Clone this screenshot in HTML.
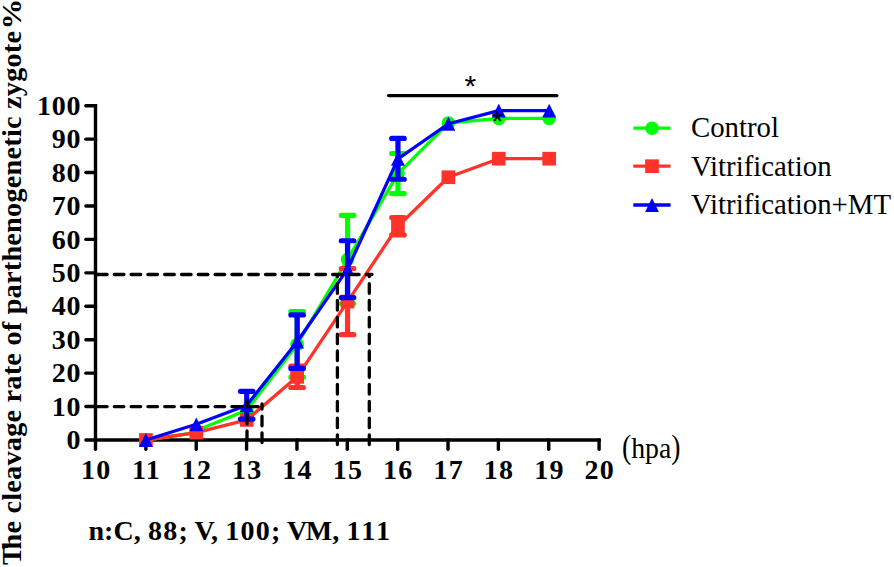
<!DOCTYPE html><html><head><meta charset="utf-8"><title>chart</title><style>
html,body{margin:0;padding:0;background:#fff}
#c{position:relative;width:894px;height:567px;overflow:hidden;background:#fff;font-family:"Liberation Serif",serif;color:#000}
.t{position:absolute;white-space:nowrap;line-height:1}
.yl{font-weight:bold;font-size:28px;text-align:right;width:70px;left:11.4px;letter-spacing:0.8px}
.xl{font-weight:bold;font-size:28px;text-align:center;width:60px;letter-spacing:1.3px}
.lg{font-size:28.8px;left:691px}
.d{letter-spacing:1.1px}
.p{display:inline-block;transform:translateY(-1.4px) scaleY(1.165);transform-origin:50% 58%}
</style></head><body><div id="c">
<svg width="894" height="567" viewBox="0 0 894 567" style="position:absolute;left:0;top:0">
<g stroke="#000" stroke-width="3.4" fill="none">
<path d="M95.5 104.00V441.70"/>
<path d="M93.8 440.0H600.80"/>
<path d="M85.9 440.00H95.5" stroke-linecap="round"/>
<path d="M85.9 406.57H95.5" stroke-linecap="round"/>
<path d="M85.9 373.14H95.5" stroke-linecap="round"/>
<path d="M85.9 339.71H95.5" stroke-linecap="round"/>
<path d="M85.9 306.28H95.5" stroke-linecap="round"/>
<path d="M85.9 272.85H95.5" stroke-linecap="round"/>
<path d="M85.9 239.42H95.5" stroke-linecap="round"/>
<path d="M85.9 205.99H95.5" stroke-linecap="round"/>
<path d="M85.9 172.56H95.5" stroke-linecap="round"/>
<path d="M85.9 139.13H95.5" stroke-linecap="round"/>
<path d="M85.9 105.70H95.5" stroke-linecap="round"/>
<path d="M95.50 440.0V449.3" stroke-linecap="round"/>
<path d="M145.86 440.0V449.3" stroke-linecap="round"/>
<path d="M196.22 440.0V449.3" stroke-linecap="round"/>
<path d="M246.58 440.0V449.3" stroke-linecap="round"/>
<path d="M296.94 440.0V449.3" stroke-linecap="round"/>
<path d="M347.30 440.0V449.3" stroke-linecap="round"/>
<path d="M397.66 440.0V449.3" stroke-linecap="round"/>
<path d="M448.02 440.0V449.3" stroke-linecap="round"/>
<path d="M498.38 440.0V449.3" stroke-linecap="round"/>
<path d="M548.74 440.0V449.3" stroke-linecap="round"/>
<path d="M599.10 440.0V449.3" stroke-linecap="round"/>
</g>
<path d="M297.14 311.63V377.15M290.89 311.63H303.39M290.89 377.15H303.39" stroke="#00ff00" stroke-width="5.2" stroke-linecap="round" fill="none"/>
<path d="M347.55 215.35V303.61M341.30 215.35H353.80M341.30 303.61H353.80" stroke="#00ff00" stroke-width="5.2" stroke-linecap="round" fill="none"/>
<path d="M397.96 153.50V193.62M391.71 153.50H404.21M391.71 193.62H404.21" stroke="#00ff00" stroke-width="5.2" stroke-linecap="round" fill="none"/>
<path d="M145.91 440.00L196.32 432.65" stroke="#00ff00" stroke-width="3.3" fill="none"/>
<polyline points="196.32,430.47 246.73,410.25 297.14,344.39 347.55,259.48 397.96,173.56 448.37,123.08 498.78,118.40 549.19,118.40" fill="none" stroke="#00ff00" stroke-width="3.3" stroke-linejoin="round"/>
<circle cx="145.91" cy="440.00" r="6.75" fill="#00ff00"/>
<circle cx="196.32" cy="430.47" r="6.75" fill="#00ff00"/>
<circle cx="246.73" cy="410.25" r="6.75" fill="#00ff00"/>
<circle cx="297.14" cy="344.39" r="6.75" fill="#00ff00"/>
<circle cx="347.55" cy="259.48" r="6.75" fill="#00ff00"/>
<circle cx="397.96" cy="173.56" r="6.75" fill="#00ff00"/>
<circle cx="448.37" cy="123.08" r="6.75" fill="#00ff00"/>
<circle cx="498.78" cy="118.40" r="6.75" fill="#00ff00"/>
<circle cx="549.19" cy="118.40" r="6.75" fill="#00ff00"/>
<path d="M297.14 366.12V387.51M290.89 366.12H303.39M290.89 387.51H303.39" stroke="#ff3329" stroke-width="5.2" stroke-linecap="round" fill="none"/>
<path d="M347.55 268.50V334.70M341.30 268.50H353.80M341.30 334.70H353.80" stroke="#ff3329" stroke-width="5.2" stroke-linecap="round" fill="none"/>
<path d="M397.96 217.52V234.91M391.71 217.52H404.21M391.71 234.91H404.21" stroke="#ff3329" stroke-width="5.2" stroke-linecap="round" fill="none"/>
<polyline points="145.91,440.00 196.32,432.65 246.73,419.94 297.14,376.82 347.55,301.60 397.96,226.22 448.37,177.24 498.78,158.69 549.19,158.69" fill="none" stroke="#ff3329" stroke-width="3.3" stroke-linejoin="round"/>
<rect x="139.06" y="433.15" width="13.7" height="13.7" fill="#ff3329"/>
<rect x="189.47" y="425.80" width="13.7" height="13.7" fill="#ff3329"/>
<rect x="239.88" y="413.09" width="13.7" height="13.7" fill="#ff3329"/>
<rect x="290.29" y="369.97" width="13.7" height="13.7" fill="#ff3329"/>
<rect x="340.70" y="294.75" width="13.7" height="13.7" fill="#ff3329"/>
<rect x="391.11" y="219.37" width="13.7" height="13.7" fill="#ff3329"/>
<rect x="441.52" y="170.39" width="13.7" height="13.7" fill="#ff3329"/>
<rect x="491.93" y="151.84" width="13.7" height="13.7" fill="#ff3329"/>
<rect x="542.34" y="151.84" width="13.7" height="13.7" fill="#ff3329"/>
<path d="M246.73 391.36V419.11M240.48 391.36H252.98M240.48 419.11H252.98" stroke="#0000ff" stroke-width="5.2" stroke-linecap="round" fill="none"/>
<path d="M297.14 314.97V368.46M290.89 314.97H303.39M290.89 368.46H303.39" stroke="#0000ff" stroke-width="5.2" stroke-linecap="round" fill="none"/>
<path d="M347.55 240.76V297.59M341.30 240.76H353.80M341.30 297.59H353.80" stroke="#0000ff" stroke-width="5.2" stroke-linecap="round" fill="none"/>
<path d="M397.96 138.46V179.25M391.71 138.46H404.21M391.71 179.25H404.21" stroke="#0000ff" stroke-width="5.2" stroke-linecap="round" fill="none"/>
<polyline points="145.91,440.00 196.32,424.29 246.73,405.23 297.14,341.72 347.55,269.17 397.96,158.85 448.37,123.75 498.78,110.71 549.19,110.71" fill="none" stroke="#0000ff" stroke-width="3.3" stroke-linejoin="round"/>
<path d="M145.91 433.10L152.86 446.90H138.96Z" fill="#0000ff"/>
<path d="M196.32 417.39L203.27 431.19H189.37Z" fill="#0000ff"/>
<path d="M246.73 398.33L253.68 412.13H239.78Z" fill="#0000ff"/>
<path d="M297.14 334.82L304.09 348.62H290.19Z" fill="#0000ff"/>
<path d="M347.55 262.27L354.50 276.07H340.60Z" fill="#0000ff"/>
<path d="M397.96 151.95L404.91 165.75H391.01Z" fill="#0000ff"/>
<path d="M448.37 116.85L455.32 130.65H441.42Z" fill="#0000ff"/>
<path d="M498.78 103.81L505.73 117.61H491.83Z" fill="#0000ff"/>
<path d="M549.19 103.81L556.14 117.61H542.24Z" fill="#0000ff"/>
<g stroke="#000" stroke-width="3.3" fill="none" stroke-linecap="round" stroke-dasharray="9.6 7.2">
<path d="M97.5 274.5H372"/>
<path d="M97.5 406.6H261"/>
<path d="M337.4 444.5V276"/>
<path d="M369.3 444.5V276"/>
<path d="M262 442.6V404"/>
<path d="M247 440.6V401"/>
</g>
<path d="M388.6 95.6H556.8" stroke="#000" stroke-width="3.4" stroke-linecap="round"/>
<path d="M633.3 128.2H670.6" stroke="#00ff00" stroke-width="3.3"/>
<circle cx="652.00" cy="128.20" r="6.75" fill="#00ff00"/>
<path d="M633.3 166.2H670.6" stroke="#ff3329" stroke-width="3.3"/>
<rect x="645.15" y="159.35" width="13.7" height="13.7" fill="#ff3329"/>
<path d="M633.3 205.0H670.6" stroke="#0000ff" stroke-width="3.3"/>
<path d="M652.00 198.10L658.95 211.90H645.05Z" fill="#0000ff"/>
</svg>
<div class="t yl" style="top:426.20px">0</div>
<div class="t yl" style="top:392.77px">10</div>
<div class="t yl" style="top:359.34px">20</div>
<div class="t yl" style="top:325.91px">30</div>
<div class="t yl" style="top:292.48px">40</div>
<div class="t yl" style="top:259.05px">50</div>
<div class="t yl" style="top:225.62px">60</div>
<div class="t yl" style="top:192.19px">70</div>
<div class="t yl" style="top:158.76px">80</div>
<div class="t yl" style="top:125.33px">90</div>
<div class="t yl" style="top:91.90px">100</div>
<div class="t xl" style="left:66.20px;top:455.7px">10</div>
<div class="t xl" style="left:116.56px;top:455.7px">11</div>
<div class="t xl" style="left:166.92px;top:455.7px">12</div>
<div class="t xl" style="left:217.28px;top:455.7px">13</div>
<div class="t xl" style="left:267.64px;top:455.7px">14</div>
<div class="t xl" style="left:318.00px;top:455.7px">15</div>
<div class="t xl" style="left:368.36px;top:455.7px">16</div>
<div class="t xl" style="left:418.72px;top:455.7px">17</div>
<div class="t xl" style="left:469.08px;top:455.7px">18</div>
<div class="t xl" style="left:519.44px;top:455.7px">19</div>
<div class="t xl" style="left:569.80px;top:455.7px">20</div>
<div class="t" style="left:621.6px;top:434.0px;font-size:29.5px;transform:scaleX(0.94);transform-origin:0 0"><span class="p">(</span>hpa<span class="p">)</span></div>
<div class="t lg" style="top:112.90px">Control</div>
<div class="t lg" style="top:151.60px">Vitrification</div>
<div class="t lg" style="top:189.60px">Vitrification+MT</div>
<div class="t" style="left:88.5px;top:517.2px;font-weight:bold;font-size:28px;letter-spacing:0.05px">n:C, <span style="letter-spacing:1.3px">88</span>; V, <span style="letter-spacing:1.3px">100</span>; V<span style="margin-left:-1.5px">M</span>, <span style="letter-spacing:2.3px">111</span></div>
<div class="t" style="left:23px;top:564.5px;font-weight:bold;font-size:28.3px;letter-spacing:0.21px;transform-origin:0 0;transform:rotate(-90deg) translateY(-24.6px)"><span style="letter-spacing:-3.4px">T</span>he cleavage rate of parthenogenetic zygote<span style="display:inline-block;margin-left:3.6px;transform:scaleX(1.09);transform-origin:100% 50%">%</span></div>
<div class="t" style="left:464.6px;top:70.8px;font-family:'Liberation Sans',sans-serif;font-size:30px">*</div>
<div class="t" style="left:491.6px;top:106.1px;font-family:'Liberation Sans',sans-serif;font-size:30px">*</div>
</div></body></html>
